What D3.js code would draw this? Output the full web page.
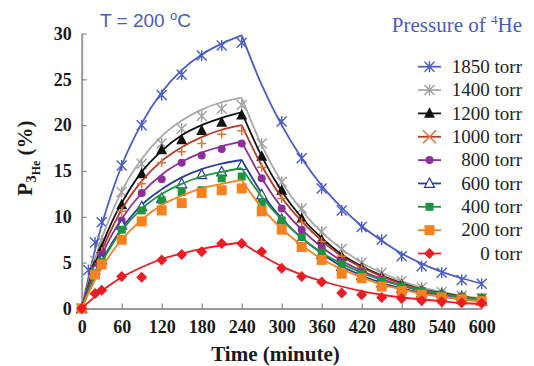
<!DOCTYPE html>
<html>
<head>
<meta charset="utf-8">
<script src="https://cdn.jsdelivr.net/npm/d3@7"></script>
<style>
  html, body { margin: 0; padding: 0; background: #fff; }
  svg { display: block; }
</style>
</head>
<body>
<svg id="chart" width="534" height="366"></svg>
<script>
// Measured 3He polarisation at T = 200 °C for several 4He buffer pressures.
const seriesNames = ['1850 torr', '1400 torr', '1200 torr', '1000 torr', '800 torr',
                     '600 torr', '400 torr', '200 torr', '0 torr'];

// sampling times (minutes) of the measurements
const markerTimes = [0, 10, 20, 30, 60, 90, 120, 150, 180, 210, 240,
                     270, 300, 330, 360, 390, 420, 450, 480, 510, 540, 570, 600];
// times at which the fitted curves are tabulated
const fitTimes = [0, 15, 30, 45, 60, 90, 120, 150, 180, 210, 240,
                  270, 300, 330, 360, 390, 420, 450, 480, 510, 540, 570, 600];

// measured points (%), null = not measured
const p1850 = [0, 4.2, 7.2, 9.4, 15.6, 20.0, 23.3, 25.5, 27.6, 28.7, 29.0,
               null, 20.4, 16.4, 13.1, 10.7, 8.9, 7.5, 5.7, 4.6, 3.9, 3.1, 2.7];
const p1400 = [0, null, 5.2, 7.4, 12.7, 15.8, 18.0, 19.6, 21.0, 21.8, 22.2,
               18.0, 13.8, 10.9, 8.4, 6.5, 5.0, 3.9, 3.0, 2.3, 1.8, 1.4, 1.1];
const p1200 = [0, null, 4.7, 6.5, 11.3, 14.7, 17.3, 18.4, 19.4, 20.3, 21.1,
               16.6, 12.9, 9.8, 7.5, 5.7, 4.4, 3.4, 2.6, 2.0, 1.6, 1.3, 1.0];
const p1000 = [0, null, 4.5, 6.2, 10.6, 13.6, 15.9, 17.1, 18.0, 19.0, 19.4,
               15.4, 12.0, 9.4, 7.3, 5.7, 4.4, 3.4, 2.7, 2.1, 1.6, 1.3, 1.0];
const p800  = [0, null, 4.3, 5.9, 9.6, 12.6, 14.1, 15.9, 16.7, 17.4, 18.0,
               14.2, 10.9, 8.6, 6.7, 5.1, 4.0, 3.1, 2.4, 1.9, 1.5, 1.2, 0.9];
const p600  = [0, null, 4.2, 5.3, 9.1, 11.1, 12.0, 13.6, 14.6, 14.9, 15.6,
               12.4, 9.7, 7.6, 5.9, 4.6, 3.6, 2.8, 2.2, 1.7, 1.3, 1.0, 0.8];
const p400  = [0, null, 3.9, 5.1, 8.6, 10.7, 11.8, 12.7, 12.9, 14.2, 14.4,
               11.5, 9.6, 7.8, 6.1, 4.8, 3.8, 3.0, 2.4, 1.9, 1.5, 1.3, 1.2];
const p200  = [0, null, 3.7, 4.8, 7.5, 9.5, 10.7, 11.5, 12.6, 12.9, 13.1,
               10.6, 8.6, 6.7, 5.3, 3.8, 3.3, 2.4, 1.9, 1.5, 1.2, 1.0, 0.8];
const p0    = [0, null, 1.65, 2.0, 3.5, 3.4, 5.3, 5.9, 6.2, 7.1, 7.1,
               6.2, 4.4, 3.5, 2.9, 1.7, 1.5, 1.2, 1.1, 0.85, 0.75, 0.63, 0.57];

// fitted build-up / relaxation curves (%)
const fit1850 = [0, 4.9, 9.1, 12.6, 15.6, 20.2, 23.6, 26.0, 27.7, 28.9, 29.8,
                 24.4, 20.0, 16.4, 13.4, 11.0, 9.0, 7.4, 6.0, 4.9, 4.0, 3.3, 2.7];
const fit1400 = [0, 4.1, 7.6, 10.4, 12.8, 16.3, 18.8, 20.5, 21.7, 22.5, 23.0,
                 17.8, 13.8, 10.7, 8.3, 6.5, 5.0, 3.9, 3.0, 2.3, 1.8, 1.4, 1.1];
const fit1200 = [0, 3.7, 6.8, 9.4, 11.5, 14.9, 17.2, 18.9, 20.0, 20.8, 21.4,
                 16.6, 12.8, 9.9, 7.7, 5.9, 4.6, 3.6, 2.8, 2.1, 1.7, 1.3, 1.0];
const fit1000 = [0, 3.4, 6.3, 8.7, 10.8, 13.9, 16.1, 17.6, 18.7, 19.5, 20.0,
                 15.6, 12.1, 9.5, 7.4, 5.7, 4.5, 3.5, 2.7, 2.1, 1.6, 1.3, 1.0];
const fit800  = [0, 3.1, 5.8, 8.0, 9.8, 12.6, 14.6, 16.0, 17.0, 17.7, 18.2,
                 14.2, 11.0, 8.6, 6.7, 5.2, 4.1, 3.2, 2.5, 1.9, 1.5, 1.2, 0.9];
const fit600  = [0, 2.8, 5.1, 7.1, 8.7, 11.3, 13.0, 14.3, 15.2, 15.8, 16.2,
                 12.6, 9.8, 7.7, 6.0, 4.6, 3.6, 2.8, 2.2, 1.7, 1.3, 1.0, 0.8];
const fit400  = [0, 2.8, 5.0, 6.9, 8.5, 10.9, 12.5, 13.6, 14.4, 14.9, 15.3,
                 12.2, 9.7, 7.7, 6.1, 4.9, 3.9, 3.1, 2.5, 2.0, 1.6, 1.2, 1.0];
const fit200  = [0, 2.4, 4.4, 6.1, 7.5, 9.7, 11.3, 12.3, 13.1, 13.6, 14.0,
                 11.0, 8.7, 6.9, 5.4, 4.3, 3.4, 2.6, 2.1, 1.6, 1.3, 1.0, 0.8];
const fit0    = [0, 1.0, 1.9, 2.7, 3.4, 4.5, 5.4, 6.0, 6.5, 6.9, 7.2,
                 5.8, 4.6, 3.7, 3.0, 2.4, 1.9, 1.5, 1.2, 1.0, 0.8, 0.6, 0.5];

const xTicks = [0, 60, 120, 180, 240, 300, 360, 420, 480, 540, 600];
const yTicks = [0, 5, 10, 15, 20, 25, 30];

const points = [p1850, p1400, p1200, p1000, p800, p600, p400, p200, p0];
const fits = [fit1850, fit1400, fit1200, fit1000, fit800, fit600, fit400, fit200, fit0];

// appearance of each series
const styles = [
  { line: '#4a5ec2', mark: '#4a5ec2', shape: 'star',    size: 5,   legendShape: 'star' },
  { line: '#a8a8a8', mark: '#a0a0a0', shape: 'star',    size: 5,   legendShape: 'star' },
  { line: '#111111', mark: '#111111', shape: 'triFill', size: 5.5, legendShape: 'triFill' },
  { line: '#b23a28', mark: '#d9773a', shape: 'plus',    size: 4.5, legendShape: 'cross' },
  { line: '#8c2f98', mark: '#8c2f98', shape: 'circle',  size: 4,   legendShape: 'circle' },
  { line: '#2b3c9c', mark: '#2b3c9c', shape: 'triOpen', size: 5,   legendShape: 'triOpen' },
  { line: '#1f9440', mark: '#1f9440', shape: 'square',  size: 4,   legendShape: 'square' },
  { line: '#f5821f', mark: '#f5821f', shape: 'square',  size: 5,   legendShape: 'square' },
  { line: '#ec1c24', mark: '#ec1c24', shape: 'diamond', size: 5.5, legendShape: 'diamond' }
];

const svg = d3.select('#chart');
const x = d3.scaleLinear().domain([0, 600]).range([81.7, 481.7]);
const y = d3.scaleLinear().domain([0, 30]).range([308.5, 33.5]);

const serif = "'Liberation Serif', 'Times New Roman', serif";
const sans = "'Liberation Sans', Arial, sans-serif";

// axes
const gx = svg.append('g').attr('transform', `translate(0,${y(0)})`)
  .call(d3.axisBottom(x).tickValues(xTicks).tickSize(-5).tickSizeOuter(0).tickPadding(11.7));
const gy = svg.append('g').attr('transform', `translate(${x(0)},0)`)
  .call(d3.axisLeft(y).tickValues(yTicks).tickSize(-5).tickSizeOuter(0).tickPadding(10));
[gx, gy].forEach(g => {
  g.select('.domain').attr('stroke', '#9a9a9a').attr('stroke-width', 2);
  g.selectAll('.tick line').attr('stroke', '#8a8a8a').attr('stroke-width', 1.2);
  g.selectAll('.tick text').attr('fill', '#1a1a1a')
    .style('font-family', serif).style('font-weight', 'bold').style('font-size', '18px');
});

// marker drawing
function marker(g, shape, cx, cy, s, color) {
  switch (shape) {
    case 'star':
      g.append('path')
        .attr('d', `M${cx - s},${cy - s}L${cx + s},${cy + s}M${cx - s},${cy + s}L${cx + s},${cy - s}M${cx},${cy - s * 1.1}L${cx},${cy + s * 1.1}`)
        .attr('stroke', color).attr('stroke-width', 1.4).attr('fill', 'none');
      break;
    case 'cross':
      g.append('path')
        .attr('d', `M${cx - s},${cy - s}L${cx + s},${cy + s}M${cx - s},${cy + s}L${cx + s},${cy - s}`)
        .attr('stroke', color).attr('stroke-width', 1.6).attr('fill', 'none');
      break;
    case 'plus':
      g.append('path')
        .attr('d', `M${cx - s},${cy}L${cx + s},${cy}M${cx},${cy - s}L${cx},${cy + s}`)
        .attr('stroke', color).attr('stroke-width', 1.5).attr('fill', 'none');
      break;
    case 'triFill':
      g.append('path')
        .attr('d', `M${cx},${cy - s * 1.1}L${cx + s},${cy + s * 0.8}L${cx - s},${cy + s * 0.8}Z`)
        .attr('fill', color);
      break;
    case 'triOpen':
      g.append('path')
        .attr('d', `M${cx},${cy - s * 1.1}L${cx + s},${cy + s * 0.8}L${cx - s},${cy + s * 0.8}Z`)
        .attr('fill', '#fff').attr('stroke', color).attr('stroke-width', 1.2);
      break;
    case 'circle':
      g.append('circle').attr('cx', cx).attr('cy', cy).attr('r', s).attr('fill', color);
      break;
    case 'square':
      g.append('rect').attr('x', cx - s).attr('y', cy - s)
        .attr('width', 2 * s).attr('height', 2 * s).attr('fill', color);
      break;
    case 'diamond':
      g.append('path')
        .attr('d', `M${cx},${cy - s}L${cx + s},${cy}L${cx},${cy + s}L${cx - s},${cy}Z`)
        .attr('fill', color);
      break;
  }
}

// fitted curves: build-up (0-240 min) and relaxation (240-600 min) drawn separately
const lineGen = d3.line()
  .x(d => x(d[0])).y(d => y(d[1]))
  .curve(d3.curveMonotoneX);
const plot = svg.append('g');
const peakIndex = fitTimes.indexOf(240);

for (let i = 0; i < seriesNames.length; i++) {
  const st = styles[i];
  const g = plot.append('g');
  const pts = fitTimes.map((t, k) => [t, fits[i][k]]);
  const rise = pts.slice(0, peakIndex + 1);
  const decay = pts.slice(peakIndex);
  [rise, decay].forEach(seg => {
    g.append('path').attr('d', lineGen(seg))
      .attr('fill', 'none').attr('stroke', st.line).attr('stroke-width', 1.8);
  });
  markerTimes.forEach((t, k) => {
    const v = points[i][k];
    if (v === null) return;
    marker(g, st.shape, x(t), y(v), st.size, st.mark);
  });
}

// legend
const legend = svg.append('g');
seriesNames.forEach((name, i) => {
  const st = styles[i];
  const ly = 66.7 + 23.35 * i;
  legend.append('line').attr('x1', 418).attr('x2', 441).attr('y1', ly).attr('y2', ly)
    .attr('stroke', st.line).attr('stroke-width', 1.8);
  const s = st.legendShape === 'cross' ? 6.5 : st.size;
  marker(legend, st.legendShape, 429.5, ly, s, st.mark);
  legend.append('text').attr('x', 522).attr('y', ly + 6.3)
    .attr('text-anchor', 'end').attr('fill', '#222')
    .style('font-family', serif).style('font-size', '19px')
    .text(name);
});

// titles
const t1 = svg.append('text').attr('x', 100).attr('y', 26.5)
  .attr('fill', '#4a5ab8').style('font-family', sans).style('font-size', '19px');
t1.append('tspan').text('T = 200 ');
t1.append('tspan').attr('dy', -7).style('font-size', '13px').text('o');
t1.append('tspan').attr('dy', 7).text('C');

const t2 = svg.append('text').attr('x', 522).attr('y', 32)
  .attr('text-anchor', 'end').attr('fill', '#4a5ab8')
  .style('font-family', serif).style('font-size', '21px');
t2.append('tspan').text('Pressure of ');
t2.append('tspan').attr('dy', -8).style('font-size', '13px').text('4');
t2.append('tspan').attr('dy', 8).text('He');

// axis titles
svg.append('text').attr('x', 275.5).attr('y', 361)
  .attr('text-anchor', 'middle').attr('fill', '#1a1a1a')
  .style('font-family', serif).style('font-weight', 'bold').style('font-size', '21px')
  .text('Time (minute)');

const yt = svg.append('text')
  .attr('transform', 'translate(32,158) rotate(-90)')
  .attr('text-anchor', 'middle').attr('fill', '#1a1a1a')
  .style('font-family', serif).style('font-weight', 'bold').style('font-size', '21px');
yt.append('tspan').text('P');
yt.append('tspan').attr('dy', 4).style('font-size', '15px').text('3');
yt.append('tspan').attr('dy', 4).style('font-size', '12px').text('He');
yt.append('tspan').attr('dy', -8).text(' (%)');
</script>
</body>
</html>
